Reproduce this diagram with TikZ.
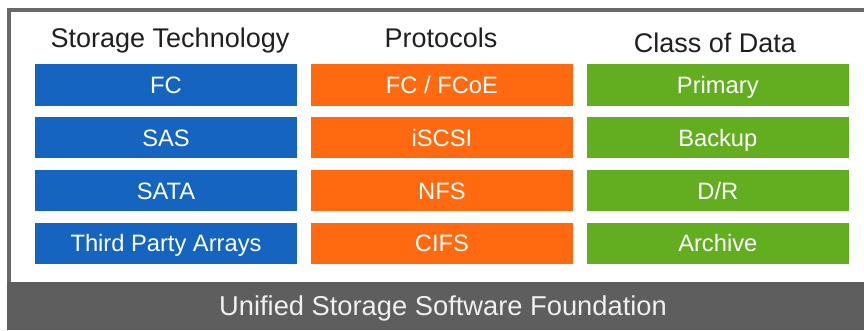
\documentclass[tikz,border=0pt]{standalone}
\usepackage{fontspec}
\setmainfont{Liberation Sans}
\usetikzlibrary{positioning}
\definecolor{techc}{RGB}{21,101,192}
\definecolor{protoc}{RGB}{255,106,16}
\definecolor{classc}{RGB}{98,174,32}
\definecolor{basec}{RGB}{94,94,94}
\definecolor{framec}{RGB}{104,104,104}

\begin{document}
\begin{tikzpicture}[x=1pt,y=-1pt,
  cell/.style={minimum width=262pt,minimum height=41.5pt,inner sep=0pt,text=white,
    font=\fontsize{23.7}{24}\selectfont,text height=17pt,text depth=0pt},
  tech/.style={cell,fill=techc},
  proto/.style={cell,fill=protoc},
  cls/.style={cell,fill=classc},
  head/.style={anchor=base,font=\fontsize{27}{29}\selectfont,text=black!88},
  node distance=11pt and 13.5pt]
  \useasboundingbox (0,0) rectangle (864,330);
  % frame and foundation band
  \fill[basec] (7,282) rectangle (864,330);
  \draw[framec,line width=4pt] (9,282) |- (866,10);
  \node[anchor=base,text=white!94!black,font=\fontsize{27.3}{29}\selectfont] (base) at (443,315) {Unified Storage Software Foundation};
  % column headers
  \node[head] (htech) at (170,47) {Storage Technology};
  \node[head] (hproto) at (441,47) {Protocols};
  \node[head] (hcls) at (715,52) {Class of Data};
  % storage technology
  \node[tech] (t1) at (166,84.75) {FC};
  \node[tech,below=of t1] (t2) {SAS};
  \node[tech,below=of t2] (t3) {SATA};
  \node[tech,below=of t3] (t4) {Third Party Arrays};
  % protocols
  \node[proto,right=of t1] (p1) {FC / FCoE};
  \node[proto,right=of t2] (p2) {iSCSI};
  \node[proto,right=of t3] (p3) {NFS};
  \node[proto,right=of t4] (p4) {CIFS};
  % class of data
  \node[cls,right=of p1] (c1) {Primary};
  \node[cls,right=of p2] (c2) {Backup};
  \node[cls,right=of p3] (c3) {D/R};
  \node[cls,right=of p4] (c4) {Archive};
\end{tikzpicture}
\end{document}
